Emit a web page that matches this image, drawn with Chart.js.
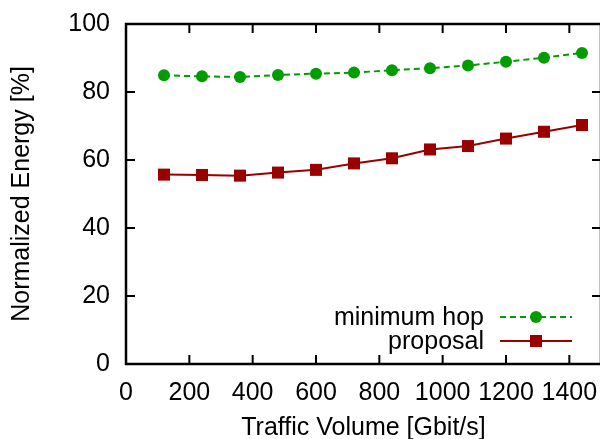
<!DOCTYPE html>
<html>
<head>
<meta charset="utf-8">
<script src="https://cdn.jsdelivr.net/npm/chart.js@4.4.1/dist/chart.umd.min.js"></script>
<style>
html,body{margin:0;padding:0;background:#fff;overflow:hidden;}
#wrap{width:610px;height:439px;}
</style>
</head>
<body>
<div id="wrap"><canvas id="c" width="610" height="439"></canvas></div>
<script>
const trafficVolume = [120, 240, 360, 480, 600, 720, 840, 960, 1080, 1200, 1320, 1440];
const minimumHop = [84.9, 84.6, 84.4, 85.0, 85.4, 85.7, 86.4, 87.0, 87.8, 88.9, 90.1, 91.5];
const proposal = [55.7, 55.6, 55.4, 56.3, 57.1, 59.0, 60.5, 63.1, 64.1, 66.3, 68.3, 70.3];
const xTicks = [0, 200, 400, 600, 800, 1000, 1200, 1400];
const yTicks = [0, 20, 40, 60, 80, 100];
const seriesNames = ['minimum hop', 'proposal'];

const FONT = 'Liberation Sans, Arial, sans-serif';
const FS = 25;
const GREEN = '#009c00';
const RED = '#990000';

const framePlugin = {
  id: 'frame',
  afterDraw(chart) {
    const ctx = chart.ctx, a = chart.chartArea;
    const xs = chart.scales.x, ys = chart.scales.y;
    ctx.save();
    ctx.strokeStyle = '#000';
    ctx.lineWidth = 2;
    const tl = 9;
    ctx.beginPath();
    xTicks.forEach(v => {
      const px = xs.getPixelForValue(v);
      ctx.moveTo(px, a.bottom); ctx.lineTo(px, a.bottom - tl);
      ctx.moveTo(px, a.top); ctx.lineTo(px, a.top + tl);
    });
    yTicks.forEach(v => {
      const py = ys.getPixelForValue(v);
      ctx.moveTo(a.left, py); ctx.lineTo(a.left + tl, py);
      ctx.moveTo(a.right, py); ctx.lineTo(a.right - tl, py);
    });
    ctx.stroke();
    ctx.lineWidth = 2.5;
    ctx.strokeRect(a.left, a.top, a.right - a.left, a.bottom - a.top);
    ctx.restore();
  }
};

const legendPlugin = {
  id: 'gpLegend',
  afterDraw(chart) {
    const ctx = chart.ctx;
    const rows = [317, 341];
    ctx.save();
    ctx.font = FS + 'px ' + FONT;
    ctx.textAlign = 'right';
    ctx.textBaseline = 'middle';
    chart.data.datasets.forEach((ds, i) => {
      const y = rows[i];
      ctx.fillStyle = '#000';
      ctx.fillText(ds.label, 484, y + 1);
      ctx.strokeStyle = ds.borderColor;
      ctx.lineWidth = ds.borderWidth;
      ctx.setLineDash(ds.borderDash || []);
      ctx.beginPath();
      ctx.moveTo(500, y); ctx.lineTo(572, y);
      ctx.stroke();
      ctx.setLineDash([]);
      ctx.fillStyle = ds.pointBackgroundColor;
      if (ds.pointStyle === 'rect') {
        ctx.fillRect(536 - 6, y - 6, 12, 12);
      } else {
        ctx.beginPath(); ctx.arc(536, y, 6, 0, Math.PI * 2); ctx.fill();
      }
    });
    ctx.restore();
  }
};

new Chart(document.getElementById('c'), {
  type: 'line',
  data: {
    datasets: [
      {
        label: seriesNames[0],
        data: trafficVolume.map((x, i) => ({x, y: minimumHop[i]})),
        borderColor: GREEN, backgroundColor: GREEN,
        pointBackgroundColor: GREEN, pointBorderColor: GREEN,
        borderWidth: 2, borderDash: [6, 4],
        pointStyle: 'circle', pointRadius: 6, pointBorderWidth: 0,
        tension: 0, fill: false
      },
      {
        label: seriesNames[1],
        data: trafficVolume.map((x, i) => ({x, y: proposal[i]})),
        borderColor: RED, backgroundColor: RED,
        pointBackgroundColor: RED, pointBorderColor: RED,
        borderWidth: 2,
        pointStyle: 'rect', pointRadius: 8.5, pointBorderWidth: 0,
        tension: 0, fill: false
      }
    ]
  },
  options: {
    responsive: false,
    animation: false,
    events: [],
    layout: { padding: { top: 24, right: 9, left: 0, bottom: 0 } },
    plugins: { legend: { display: false }, tooltip: { enabled: false } },
    scales: {
      x: {
        type: 'linear', min: 0, max: 1500,
        grid: { display: false, drawTicks: false },
        border: { display: false },
        afterFit(s) { s.height = 75; s.paddingLeft = 0; s.paddingRight = 0; },
        afterBuildTicks(s) { s.ticks = xTicks.map(v => ({value: v})); },
        ticks: { padding: 14, color: '#000', font: { family: FONT, size: FS }, maxRotation: 0, autoSkip: false,
                 callback: v => String(v) },
        title: { display: true, text: 'Traffic Volume [Gbit/s]', color: '#000',
                 font: { family: FONT, size: FS, lineHeight: 1 }, padding: { top: 0, bottom: -2 } }
      },
      y: {
        type: 'linear', min: 0, max: 100,
        grid: { display: false, drawTicks: false },
        border: { display: false },
        afterFit(s) { s.width = 126; s.paddingTop = 0; s.paddingBottom = 0; },
        afterBuildTicks(s) { s.ticks = yTicks.map(v => ({value: v})); },
        ticks: { padding: 16, color: '#000', font: { family: FONT, size: FS }, autoSkip: false,
                 callback: v => String(v) },
        title: { display: true, text: 'Normalized Energy [%]', color: '#000',
                 font: { family: FONT, size: FS, lineHeight: 1 }, padding: { top: 10, bottom: 0 } }
      }
    }
  },
  plugins: [framePlugin, legendPlugin]
});
</script>
</body>
</html>
